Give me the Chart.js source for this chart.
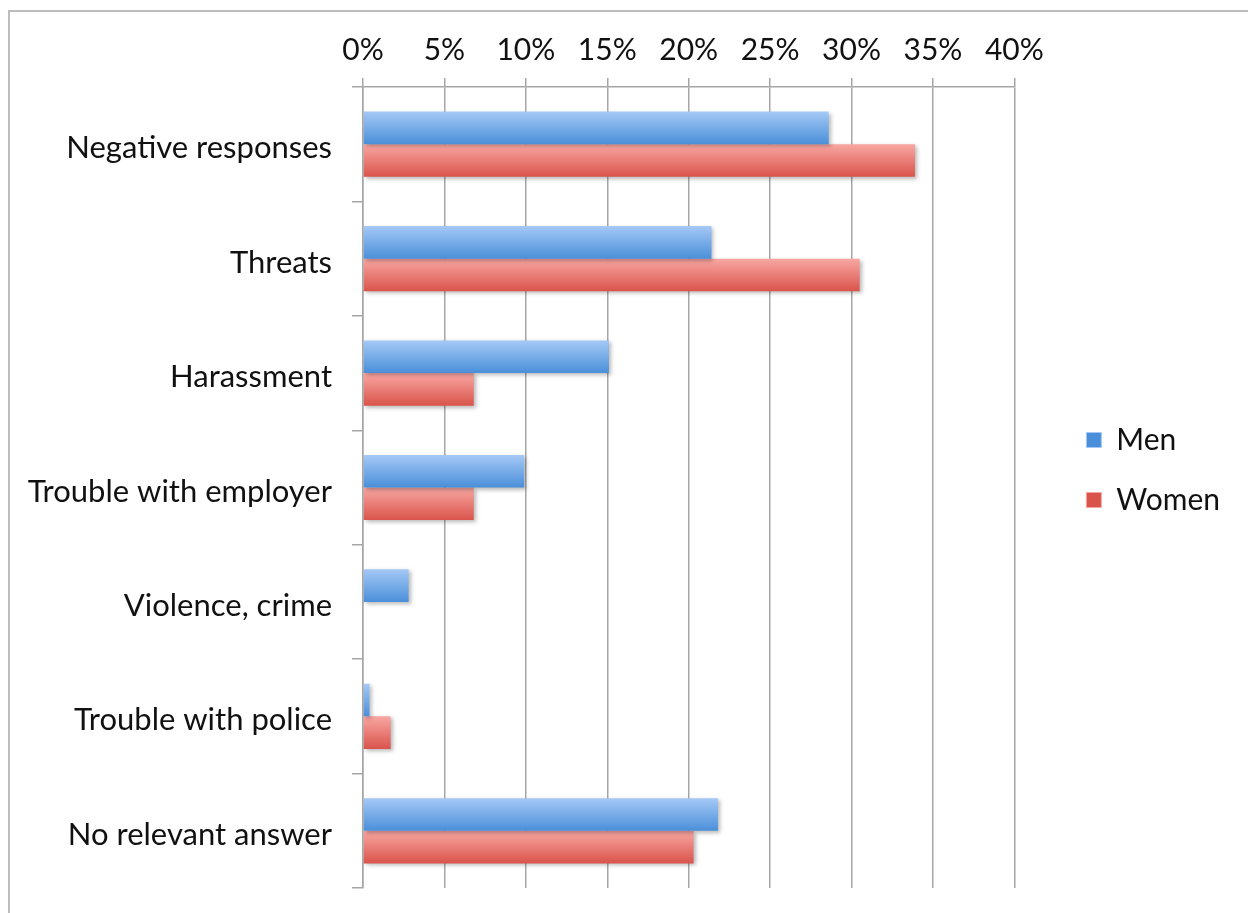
<!DOCTYPE html>
<html>
<head>
<meta charset="utf-8">
<script src="https://cdn.jsdelivr.net/npm/chart.js@4/dist/chart.umd.min.js"></script>
<style>
  html, body { margin: 0; padding: 0; background: #fff; overflow: hidden; }
  #frame {
    position: absolute; left: 8px; top: 10px;
    width: 1400px; height: 1000px;
    border-left: 2px solid #bdbdbd; border-top: 2px solid #bdbdbd;
  }
  #wrap { position: absolute; left: 0; top: 0; width: 1248px; height: 913px; }
</style>
</head>
<body>
<div id="frame"></div>
<div id="wrap"><canvas id="chart" width="1248" height="913"></canvas></div>
<script>
// categories and values (percent)
const categories = ['Negative responses', 'Threats', 'Harassment', 'Trouble with employer',
    'Violence, crime', 'Trouble with police', 'No relevant answer'];
const menValues = [28.6, 21.4, 15.1, 9.9, 2.8, 0.4, 21.8];
const womenValues = [33.9, 30.5, 6.8, 6.8, 0, 1.7, 20.3];
const tickValues = [0, 5, 10, 15, 20, 25, 30, 35, 40];

const FONT = 'Lato, Carlito, "Open Sans", sans-serif';
const GRID = '#a6a6a6';

const gradients = {
    Men: ['#a5c9f6', '#4a8fd9'],
    Women: ['#f9a7a3', '#d9544b']
};

// vertical gradient fill + soft shadow for each bar
const barStyle = {
    id: 'barStyle',
    beforeDatasetsDraw(chart) {
        const ctx = chart.ctx;
        chart.data.datasets.forEach((ds, i) => {
            const meta = chart.getDatasetMeta(i);
            const cols = gradients[ds.label];
            meta.data.forEach(el => {
                const top = el.y - el.height / 2;
                const g = ctx.createLinearGradient(0, top, 0, top + el.height);
                g.addColorStop(0, cols[0]);
                g.addColorStop(1, cols[1]);
                el.options = Object.assign({}, el.options, { backgroundColor: g });
            });
        });
        ctx.save();
        ctx.shadowColor = 'rgba(0,0,0,0.28)';
        ctx.shadowOffsetX = 2;
        ctx.shadowOffsetY = 2;
        ctx.shadowBlur = 4;
    },
    afterDatasetsDraw(chart) {
        chart.ctx.restore();
    }
};

// move the legend off the plot a bit, like the original
const legendShift = {
    id: 'legendShift',
    afterLayout(chart) {
        const lg = chart.legend;
        lg.left += 42; lg.right += 42;
        lg.top += 26; lg.bottom += 26;
    }
};

new Chart(document.getElementById('chart'), {
    type: 'bar',
    data: {
        labels: categories,
        datasets: [
            { label: 'Men', data: menValues, backgroundColor: gradients.Men[1] },
            { label: 'Women', data: womenValues, backgroundColor: gradients.Women[1] }
        ]
    },
    options: {
        indexAxis: 'y',
        responsive: false,
        animation: false,
        devicePixelRatio: 1,
        layout: { padding: { left: 0, top: 0, right: 60, bottom: 25 } },
        datasets: {
            bar: { categoryPercentage: 0.57, barPercentage: 1.0, borderWidth: 0 }
        },
        scales: {
            x: {
                position: 'top',
                min: 0,
                max: 40,
                afterBuildTicks(scale) {
                    scale.ticks = tickValues.map(v => ({ value: v }));
                },
                afterFit(scale) { scale.height = 87; },
                grid: { color: GRID, lineWidth: 1.5, tickLength: 9, drawTicks: true },
                border: { color: GRID, width: 1.5 },
                ticks: {
                    padding: 10,
                    color: '#111',
                    font: { family: FONT, size: 30 },
                    callback: v => v + '%'
                }
            },
            y: {
                afterFit(scale) {
                    scale.width = 363;
                    scale.paddingTop = 0;
                    scale.paddingBottom = 0;
                },
                grid: { drawOnChartArea: false, color: GRID, lineWidth: 1.5, tickLength: 11 },
                border: { color: GRID, width: 1.5 },
                ticks: {
                    padding: 20,
                    labelOffset: 4,
                    color: '#111',
                    font: { family: FONT, size: 31 }
                }
            }
        },
        plugins: {
            tooltip: { enabled: false },
            legend: {
                position: 'right',
                labels: {
                    boxWidth: 15,
                    boxHeight: 15,
                    padding: 30,
                    color: '#111',
                    font: { family: FONT, size: 30 },
                    generateLabels(chart) {
                        return chart.data.datasets.map((ds, i) => ({
                            text: ds.label,
                            fillStyle: gradients[ds.label][1],
                            strokeStyle: gradients[ds.label][0],
                            lineWidth: 1,
                            fontColor: '#111',
                            datasetIndex: i
                        }));
                    }
                }
            }
        }
    },
    plugins: [barStyle, legendShift]
});
</script>
</body>
</html>
